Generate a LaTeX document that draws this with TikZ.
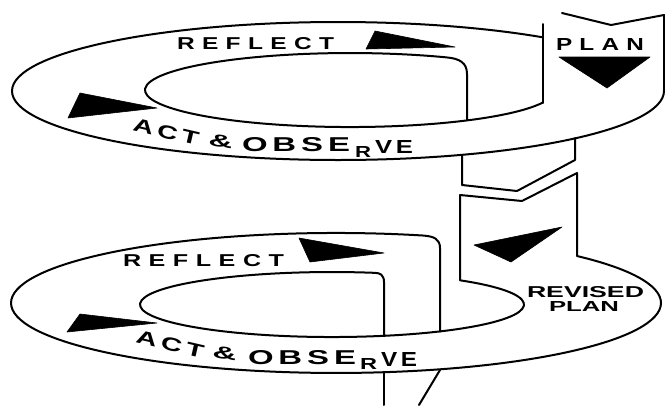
\documentclass[tikz,border=0pt]{standalone}
\usepackage{graphicx}
\usepackage{fontspec}
\newfontfamily\lblfont{Liberation Sans}
\newcommand\gapwide{\kern.3em}
\newcommand\gapnarrow{\kern.15em}
\begin{document}
\begin{tikzpicture}[x=1pt,y=1pt]
\tikzset{
  ln/.style={line width=2pt, line join=round, line cap=round},
  tri/.style={fill=black, draw=black, line width=0.6pt, line join=round},
  lbl/.style={inner sep=0pt, outer sep=0pt, font=\lblfont\bfseries, anchor=south west},
}
\useasboundingbox (0,0) rectangle (665,-405);
\fill[white] (0,0) rectangle (665,-405);

% ---------- top cycle ----------
\draw[ln] (664,-15) -- (664,-91) arc[start angle=0, end angle=-309, x radius=326, y radius=69];
\draw[ln] (562,-13) -- (611,-25) -- (664,-15);
\draw[ln] (543,-24) -- (543,-103);
\draw[ln] (543,-102.5) arc[start angle=-19.7, end angle=-298, x radius=205, y radius=37]
  .. controls (460,-58.5) and (467,-63) .. (467,-74) -- (467,-120);
\draw[ln] (462,-155) -- (462,-185) -- (517,-191) -- (575,-160) -- (575,-138);

% ---------- bottom cycle ----------
\draw[ln] (460,-195) -- (522,-201) -- (577,-173) -- (577,-256)
  arc[start angle=42.14, end angle=-285.5, x radius=325, y radius=70]
  .. controls (434,-236.3) and (440,-239) .. (440,-248) -- (440,-331.5);
\draw[ln] (460,-195) -- (460,-280.3)
  arc[start angle=48.19, end angle=-283, x radius=192, y radius=32.5]
  .. controls (380,-272.9) and (384,-275) .. (384,-282) -- (384,-336);
\draw[ln] (384,-372) -- (384,-405);
\draw[ln] (440,-370) -- (419,-405);

% ---------- arrowheads ----------
\filldraw[tri] (366,-49) -- (375,-31) -- (455,-47) -- cycle;
\filldraw[tri] (68,-118) -- (80,-93) -- (157,-108) -- cycle;
\filldraw[tri] (559,-57) -- (650,-57) -- (607,-88) -- cycle;
\filldraw[tri] (299,-238) -- (310,-262) -- (384,-253) -- cycle;
\filldraw[tri] (67,-332) -- (80,-314) -- (157,-323) -- cycle;
\filldraw[tri] (474,-245) -- (562,-227) -- (511,-262) -- cycle;

% ---------- labels, top ----------
\node[lbl] (reflA) at (177,-50) {\resizebox{157pt}{12pt}{R\gapwide E\gapwide F\gapwide L\gapwide E\gapwide C\gapwide T}};
\node[lbl] (planA) at (556,-50) {\resizebox{88pt}{12pt}{P\gapwide L\gapwide A\gapwide N}};
\node[lbl, rotate=-13] (actA) at (132,-131) {\resizebox{67pt}{13pt}{A\gapnarrow C\gapnarrow T}};
\node[lbl, rotate=-8] (ampA) at (208,-146) {\resizebox{24pt}{12pt}{\&}};
\node[lbl] (obseA) at (242,-152) {\resizebox{108pt}{14pt}{O\gapnarrow B\gapnarrow S\gapnarrow E}};
\node[lbl] (rA) at (355,-157) {\resizebox{16pt}{11pt}{R}};
\node[lbl] (veA) at (375,-153) {\resizebox{38pt}{13pt}{V\gapnarrow E}};

% ---------- labels, bottom ----------
\node[lbl] (reflB) at (123,-267) {\resizebox{161pt}{12pt}{R\gapwide E\gapwide F\gapwide L\gapwide E\gapwide C\gapwide T}};
\node[lbl, rotate=-13] (actB) at (135,-343) {\resizebox{69pt}{13pt}{A\gapnarrow C\gapnarrow T}};
\node[lbl, rotate=-8] (ampB) at (212,-358) {\resizebox{24pt}{12pt}{\&}};
\node[lbl] (obseB) at (248,-365) {\resizebox{108pt}{14pt}{O\gapnarrow B\gapnarrow S\gapnarrow E}};
\node[lbl] (rB) at (360,-369) {\resizebox{17pt}{11pt}{R}};
\node[lbl] (veB) at (381,-366) {\resizebox{36pt}{14pt}{V\gapnarrow E}};
\node[lbl] (revB) at (527,-298) {\resizebox{117pt}{11pt}{REVISED}};
\node[lbl] (planB) at (549,-311.5) {\resizebox{70pt}{10pt}{PLAN}};
\end{tikzpicture}
\end{document}
